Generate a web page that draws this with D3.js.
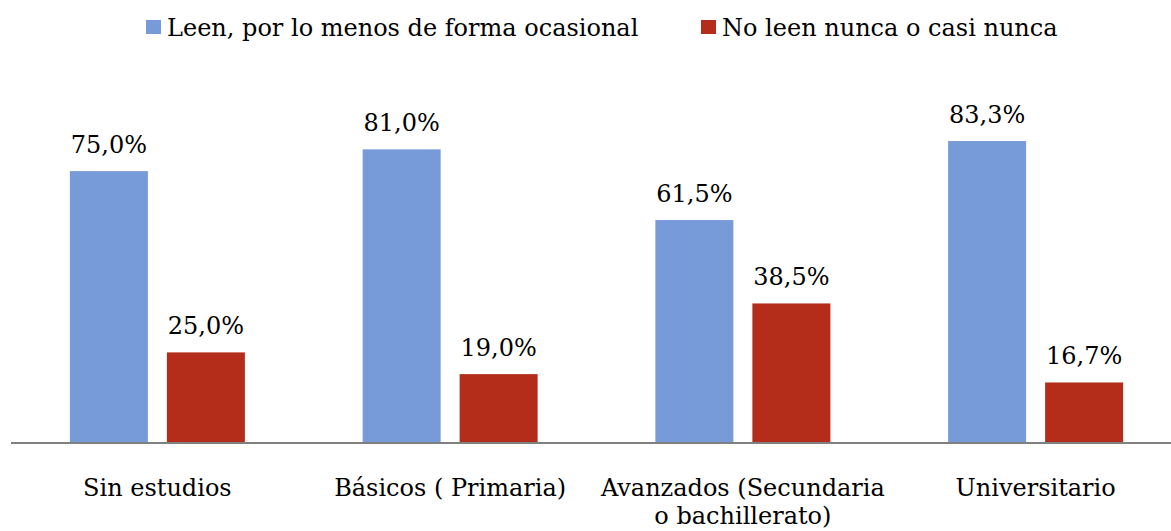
<!DOCTYPE html>
<html><head><meta charset="utf-8">
<script src="https://cdn.jsdelivr.net/npm/d3@7"></script>
<style>body{margin:0;background:#fff;} svg{display:block;} text{font-family:"DejaVu Serif",serif;fill:#000;}</style>
</head><body>
<svg id="chart" width="1171" height="531"></svg>
<script>
const categories = [["Sin estudios"], ["Básicos ( Primaria)"], ["Avanzados (Secundaria", "o bachillerato)"], ["Universitario"]];
const seriesNames = ["Leen, por lo menos de forma ocasional", "No leen nunca o casi nunca"];
const leen = [75.0, 81.0, 61.5, 83.3];
const noLeen = [25.0, 19.0, 38.5, 16.7];
const colors = ["#779ad9", "#b32d1a"];

const svg = d3.select("#chart");
const fs = 24;
const x0 = d3.scaleBand().domain(d3.range(categories.length)).range([11, 1182]).paddingInner(0).paddingOuter(0);
const half = x0.bandwidth()/2;
const x1 = d3.scaleBand().domain([0, 1]).range([half - 87.5, half + 87.5]).paddingInner(19/97).paddingOuter(0);
const y = d3.scaleLinear().domain([0, 100]).range([443, 80.5]);
const series = [leen, noLeen];

const g = svg.append("g");
categories.forEach((c, i) => {
  const gg = g.append("g").attr("transform", `translate(${x0(i)},0)`);
  series.forEach((s, j) => {
    gg.append("rect").attr("x", x1(j)).attr("width", x1.bandwidth())
      .attr("y", y(s[i])).attr("height", y(0) - y(s[i])).attr("fill", colors[j]);
    gg.append("text").attr("x", x1(j) + x1.bandwidth()/2).attr("y", y(s[i]) - 18)
      .attr("text-anchor", "middle").style("font-size", fs + "px")
      .text(d3.format(".1f")(s[i]).replace(".", ",") + "%");
  });
});

svg.append("line").attr("x1", 11).attr("x2", 1171).attr("y1", 443).attr("y2", 443)
  .attr("stroke", "#808080").attr("stroke-width", 2);

const xAxis = svg.append("g");
categories.forEach((c, i) => {
  const cx = x0(i) + half;
  const t = xAxis.append("text").attr("x", cx).attr("y", 496)
    .attr("text-anchor", "middle").style("font-size", fs + "px");
  c.forEach((line, k) => t.append("tspan").attr("x", cx).attr("dy", k === 0 ? 0 : 28).text(line));
});

const legendX = [146, 701];
seriesNames.forEach((n, j) => {
  svg.append("rect").attr("x", legendX[j]).attr("y", 20).attr("width", 15).attr("height", 14).attr("fill", colors[j]);
  svg.append("text").attr("x", legendX[j] + 21).attr("y", 36).style("font-size", fs + "px").text(n);
});
</script>
</body></html>
